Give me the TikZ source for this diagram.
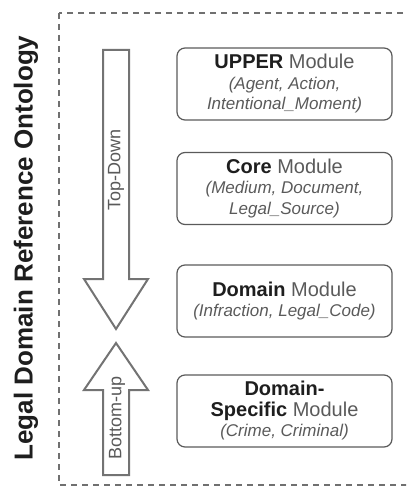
\documentclass[tikz,border=0pt]{standalone}
\usepackage{fontspec}
\setmainfont{Liberation Sans}
\usetikzlibrary{positioning}

\definecolor{framegray}{HTML}{707070}
\definecolor{txtgray}{HTML}{5A5A5A}
\definecolor{darktxt}{HTML}{1E1E1E}

\begin{document}
\begin{tikzpicture}[x=1pt,y=-1pt,
	module/.style={draw=txtgray, line width=1.2pt, rounded corners=8pt, minimum width=215pt, minimum height=72pt, align=center, inner sep=0pt, text=txtgray, font=\fontsize{17}{20.5}\selectfont},
	blockarrow/.style={draw=txtgray!85, line width=2pt, fill=white, line join=miter},
	arrowtext/.style={rotate=90, text=txtgray, font=\fontsize{18}{20}\selectfont}]

\clip (0,0) rectangle (406,486);
\useasboundingbox (0,0) rectangle (406,486);

% frame
\draw[framegray, line width=1.5pt, dash pattern=on 6pt off 5pt] (59,13) rectangle (430,485);

% title
\node[rotate=90, text=darktxt, font=\fontsize{26}{30}\selectfont\bfseries] (title) at (26,248) {Legal Domain Reference Ontology};

% top-down arrow
\draw[blockarrow] (103,50) -- (129,50) -- (129,279) -- (148,279) -- (116,329) -- (84,279) -- (103,279) -- cycle;
\node[arrowtext] (topdown) at (116,170) {Top-Down};

% bottom-up arrow
\draw[blockarrow] (103,475) -- (129,475) -- (129,390) -- (148,390) -- (116,343) -- (84,390) -- (103,390) -- cycle;
\node[arrowtext] (bottomup) at (117,418) {Bottom-up};

% modules
\node[module] (upper) at (284.5,84) {{\fontsize{20}{22}\selectfont\textcolor{darktxt}{\bfseries UPPER} Module}\\ \itshape (Agent, Action,\\ \itshape Intentional\_Moment)};
\node[module] (core) at (284.5,188.5) {{\fontsize{20}{22}\selectfont\textcolor{darktxt}{\bfseries Core} Module}\\ \itshape (Medium, Document,\\ \itshape Legal\_Source)};
\node[module] (domain) at (284.5,301) {{\fontsize{20}{22}\selectfont\textcolor{darktxt}{\bfseries Domain} Module}\\ \itshape (Infraction, Legal\_Code)};
\node[module] (specific) at (284.5,411) {{\fontsize{20}{22}\selectfont\textcolor{darktxt}{\bfseries Domain-}}\\ {\fontsize{20}{22}\selectfont\textcolor{darktxt}{\bfseries Specific} Module}\\ \itshape (Crime, Criminal)};

\end{tikzpicture}
\end{document}
